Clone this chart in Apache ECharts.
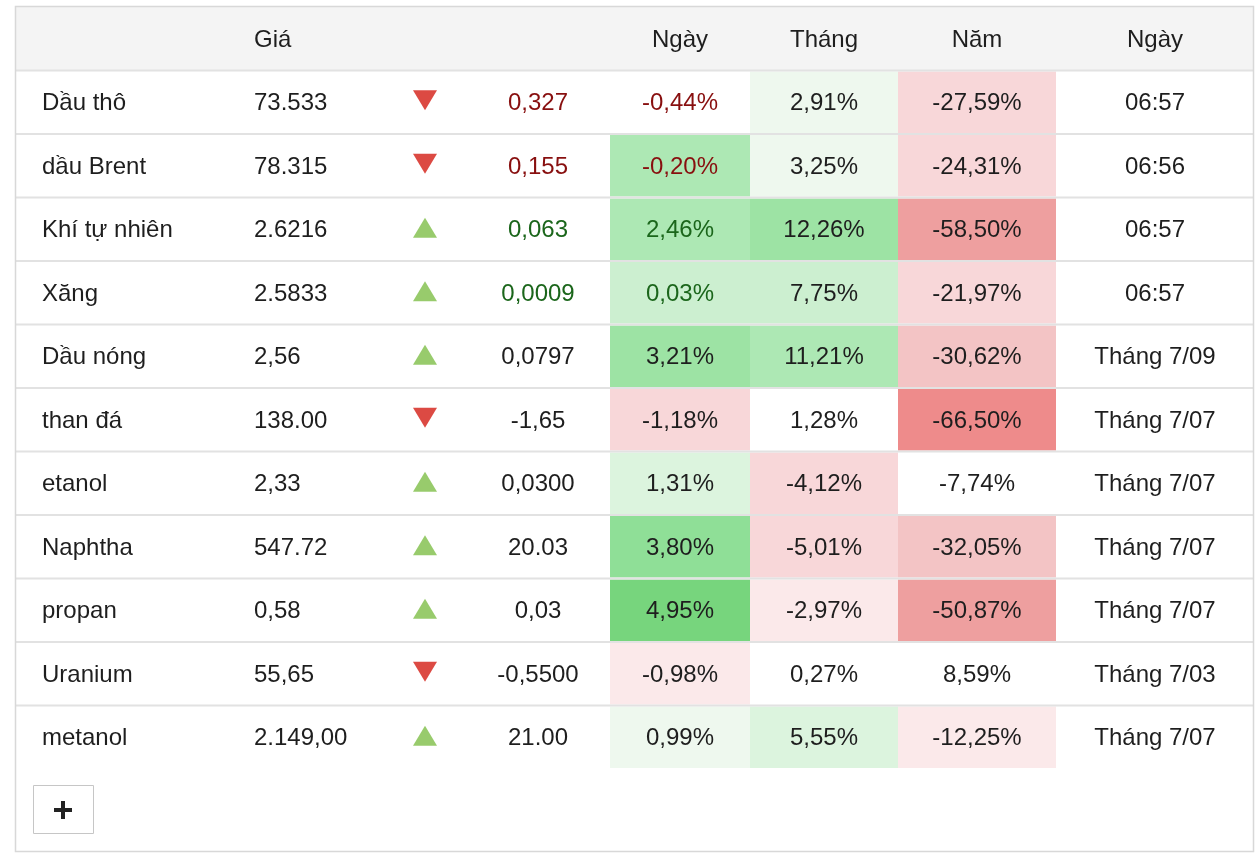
<!DOCTYPE html>
<html><head><meta charset="utf-8">
<script src="https://cdn.jsdelivr.net/npm/echarts@6/dist/echarts.min.js"></script>
<style>html,body{margin:0;padding:0;background:#fff}#c{width:1260px;height:858px}</style>
</head><body><div id="c"></div><script>
// ---------- data ----------
const headers = ['', 'Giá', '', '', 'Ngày', 'Tháng', 'Năm', 'Ngày'];
const names = ['Dầu thô','dầu Brent','Khí tự nhiên','Xăng','Dầu nóng','than đá','etanol','Naphtha','propan','Uranium','metanol'];
const prices = ['73.533','78.315','2.6216','2.5833','2,56','138.00','2,33','547.72','0,58','55,65','2.149,00'];
const directions = ['down','down','up','up','up','down','up','up','up','down','up'];
const changes = ['0,327','0,155','0,063','0,0009','0,0797','-1,65','0,0300','20.03','0,03','-0,5500','21.00'];
const dayPct = ['-0,44%','-0,20%','2,46%','0,03%','3,21%','-1,18%','1,31%','3,80%','4,95%','-0,98%','0,99%'];
const monthPct = ['2,91%','3,25%','12,26%','7,75%','11,21%','1,28%','-4,12%','-5,01%','-2,97%','0,27%','5,55%'];
const yearPct = ['-27,59%','-24,31%','-58,50%','-21,97%','-30,62%','-66,50%','-7,74%','-32,05%','-50,87%','8,59%','-12,25%'];
const times = ['06:57','06:56','06:57','06:57','Tháng 7/09','Tháng 7/07','Tháng 7/07','Tháng 7/07','Tháng 7/07','Tháng 7/03','Tháng 7/07'];
// text tone of change / day columns: -1 red, 1 green, 0 neutral
const tones = [-1,-1,1,1,0,0,0,0,0,0,0];
// heat levels of the cell backgrounds
const dayHeat = [0,4,4,3,5,-2,2,6,7,-1,1];
const monthHeat = [1,1,5,3,4,0,-2,-2,-1,0,2];
const yearHeat = [-2,-2,-4,-2,-3,-5,0,-3,-4,0,-1];

// ---------- styles / layout ----------
const heatPalette = {
  '1':'#eef8ee','2':'#dcf4de','3':'#ccefd0','4':'#ade8b4','5':'#9de3a4','6':'#8fdf97','7':'#77d57d',
  '-1':'#fbe9ea','-2':'#f8d7d9','-3':'#f3c4c5','-4':'#ee9f9f','-5':'#ee8b8b'
};
const FONT = '24px "Liberation Sans", Arial, Helvetica, sans-serif';
const TXT = '#1e1e1e', RED_TXT = '#880f0f', GREEN_TXT = '#1b661b';
const ARROW_RED = '#dc4a43', ARROW_GREEN = '#98cb6c';
const LINE = '#e2e2e2';
const W = 1237;
const TEXT_DY = 1.5;
const colX = {name:26, price:238, arrow:409, change:522, time:1139};
const heatCols = [[594,734],[734,882],[882,1040]];
const headerX = [null, 238, null, null, 664, 808, 961, 1139];

function txt(text, x, y, align, fill){
  return {type:'text', z2:20, style:{text:text, x:x, y:y + TEXT_DY, align:align, textAlign:align,
    verticalAlign:'middle', textVerticalAlign:'middle', fill:fill, font:FONT}};
}

function renderHeader(params, api){
  const r = api.value(1);
  const c = api.coord([0, r]);
  const h = api.size([0,1])[1];
  const X = v => api.coord([v, r])[0];
  const top = c[1] - h/2;
  const children = [{type:'rect', shape:{x:X(0), y:top, width:X(W)-X(0), height:h}, style:{fill:'#f4f4f4'}}];
  headers.forEach((t, k) => {
    if (!t) return;
    children.push(txt(t, X(headerX[k]), c[1], k === 1 ? 'left' : 'center', TXT));
  });
  return {type:'group', children:children};
}

function renderRow(params, api){
  const i = params.dataIndex;
  const r = api.value(1);
  const c = api.coord([0, r]);
  const h = api.size([0,1])[1];
  const X = v => api.coord([v, r])[0];
  const yc = c[1];
  const top = yc - h/2;
  const children = [];
  const heats = [dayHeat[i], monthHeat[i], yearHeat[i]];
  heatCols.forEach((hc, k) => {
    const col = heatPalette[String(heats[k])];
    if (col) children.push({type:'rect', shape:{x:X(hc[0]), y:top+1, width:X(hc[1])-X(hc[0]), height:h-2}, style:{fill:col}});
  });
  // separator on top of the row
  children.push({type:'line', z2:30, shape:{x1:X(0), y1:top, x2:X(W), y2:top}, style:{stroke:LINE, lineWidth:2}});
  const toneCol = tones[i] < 0 ? RED_TXT : (tones[i] > 0 ? GREEN_TXT : TXT);
  children.push(txt(names[i], X(colX.name), yc, 'left', TXT));
  children.push(txt(prices[i], X(colX.price), yc, 'left', TXT));
  // arrow
  const ax = X(colX.arrow);
  if (directions[i] === 'down') {
    const cy = yc - 2;
    children.push({type:'polygon', shape:{points:[[ax-12, cy-10],[ax+12, cy-10],[ax, cy+10]]}, style:{fill:ARROW_RED}});
  } else {
    const cy = yc - 1.5;
    children.push({type:'polygon', shape:{points:[[ax-12, cy+10],[ax+12, cy+10],[ax, cy-10]]}, style:{fill:ARROW_GREEN}});
  }
  children.push(txt(changes[i], X(colX.change), yc, 'center', toneCol));
  const pcts = [dayPct[i], monthPct[i], yearPct[i]];
  heatCols.forEach((hc, k) => {
    children.push(txt(pcts[k], (X(hc[0]) + X(hc[1])) / 2, yc, 'center', k === 0 ? toneCol : TXT));
  });
  children.push(txt(times[i], X(colX.time), yc, 'center', TXT));
  return {type:'group', children:children};
}

const chart = echarts.init(document.getElementById('c'), null, {renderer:'canvas'});
chart.setOption({
  animation:false,
  backgroundColor:'#fff',
  grid:{left:16, top:7, width:W, height:762},
  xAxis:{type:'value', min:0, max:W, show:false},
  yAxis:{type:'category', data:['header'].concat(names), inverse:true, show:false},
  series:[
    {type:'custom', renderItem:renderHeader, data:[[0,0]], encode:{x:0, y:1}, clip:false},
    {type:'custom', renderItem:renderRow, data:names.map((n,i)=>[0,i+1]), encode:{x:0, y:1}, clip:false}
  ],
  graphic:[
    {type:'rect', z:100, shape:{x:15.5, y:6.5, width:1238, height:845}, style:{fill:null, stroke:'#d8d8d8', lineWidth:1.5}},
    {type:'rect', z:100, shape:{x:33.5, y:785.5, width:60, height:48}, style:{fill:'#fff', stroke:'#c6c6c6', lineWidth:1}},
    {type:'rect', z:101, shape:{x:54, y:808, width:18, height:4}, style:{fill:'#222'}},
    {type:'rect', z:101, shape:{x:61, y:801, width:4, height:18}, style:{fill:'#222'}}
  ]
});
</script></body></html>
